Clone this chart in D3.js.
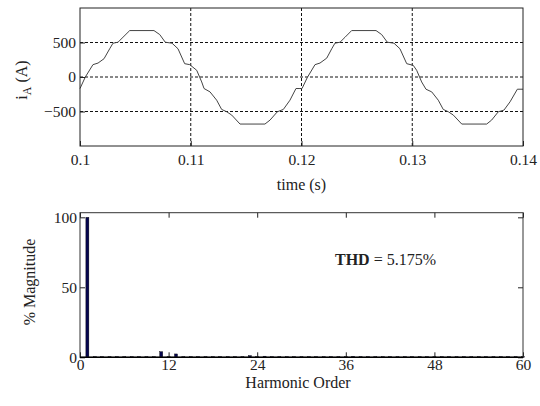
<!DOCTYPE html>
<html>
<head>
<meta charset="utf-8">
<script src="https://cdn.jsdelivr.net/npm/d3@7"></script>
<style>
  body { margin: 0; background: #fff; }
  svg text { font-family: "Liberation Serif", "Times New Roman", serif; font-size: 16px; fill: #222; }
  svg .tick text { font-size: 15.5px; }
</style>
</head>
<body>
<div id="chart"></div>
<script>

// phase current
const timeS = [
  0.1000, 0.10048, 0.10117, 0.10163, 0.10217, 0.10268, 0.10298, 0.10343, 0.10388, 0.10449,
  0.10668, 0.10720, 0.10770, 0.10831, 0.10885, 0.10945, 0.10991, 0.11054, 0.11099, 0.11120,
  0.11174, 0.11234, 0.11279, 0.11325, 0.11370, 0.11445, 0.11670, 0.11716, 0.11782, 0.11836,
  0.11896, 0.11950, 0.11986, 0.12005, 0.12052, 0.12122, 0.12167, 0.12228, 0.12273, 0.12302,
  0.12348, 0.12393, 0.12453, 0.12673, 0.12724, 0.12775, 0.12835, 0.12889, 0.12950, 0.13009,
  0.13040, 0.13085, 0.13124, 0.13176, 0.13235, 0.13280, 0.13326, 0.13371, 0.13447, 0.13672,
  0.13717, 0.13777, 0.13828, 0.13883, 0.13949, 0.14000
];
const currentA = [
  -167, 0, 179, 202, 265, 409, 490, 504, 576, 673,
  673, 615, 504, 490, 409, 193, 179, 97, -72, -167,
  -216, -336, -470, -504, -552, -682, -682, -624, -504, -470,
  -336, -167, -167, -167, -9, 179, 202, 274, 409, 490,
  504, 576, 673, 673, 615, 504, 490, 409, 193, 169,
  97, -72, -177, -216, -336, -470, -504, -552, -682, -682,
  -624, -504, -480, -360, -177, -177
];
const timeTicks = [0.1, 0.11, 0.12, 0.13, 0.14];
const currentTicks = [-500, 0, 500];

// harmonic spectrum
const harmonicOrder = [
  1, 2, 3, 4, 5, 6, 7, 8, 9, 10, 11, 12, 13, 14, 15, 16, 17, 18, 19, 20,
  21, 22, 23, 24, 25, 26, 27, 28, 29, 30, 31, 32, 33, 34, 35, 36, 37, 38, 39, 40,
  41, 42, 43, 44, 45, 46, 47, 48, 49, 50, 51, 52, 53, 54, 55, 56, 57, 58, 59, 60
];
const magnitudePct = [
  100, 0.5, 0.5, 0.5, 0.5, 0.5, 0.5, 0.5, 0.5, 0.5, 4.0, 0.5, 2.4, 0.5, 0.5, 0.5, 0.5, 0.5, 0.5, 0.5,
  0.5, 0.5, 1.2, 0.5, 0.8, 0.5, 0.5, 0.5, 0.5, 0.5, 0.5, 0.5, 0.5, 0.5, 0.5, 0.5, 0.7, 0.5, 0.5, 0.5,
  0.5, 0.5, 0.5, 0.5, 0.5, 0.5, 0.5, 0.5, 0.5, 0.5, 0.5, 0.5, 0.5, 0.5, 0.5, 0.5, 0.5, 0.5, 0.5, 0.5
];
const harmonicTicks = [0, 12, 24, 36, 48, 60];
const magnitudeTicks = [0, 50, 100];
const thdValue = "5.175%";

const WIDTH = 540;
const HEIGHT = 406;
const LEFT = 80, RIGHT = 523;

var svg = d3.select("#chart").append("svg")
    .attr("width", WIDTH)
    .attr("height", HEIGHT);

// ---------- upper plot: i_A(t) ----------
var xT = d3.scaleLinear().domain([0.1, 0.14]).range([LEFT, RIGHT]);
var yI = d3.scaleLinear().domain([-1000, 1000]).range([146, 8]);

var upper = svg.append("g");

// dashed grid
upper.selectAll(".hgrid").data(currentTicks).enter().append("line")
    .attr("x1", LEFT).attr("x2", RIGHT)
    .attr("y1", d => yI(d)).attr("y2", d => yI(d))
    .attr("stroke", "#111").attr("stroke-dasharray", "3,2");
upper.selectAll(".vgrid").data(timeTicks.slice(1, -1)).enter().append("line")
    .attr("x1", d => xT(d)).attr("x2", d => xT(d))
    .attr("y1", yI(1000)).attr("y2", yI(-1000))
    .attr("stroke", "#111").attr("stroke-dasharray", "3,2");

var line = d3.line().x((d, i) => xT(timeS[i])).y(d => yI(d));
upper.append("path")
    .datum(currentA)
    .attr("d", line)
    .attr("fill", "none")
    .attr("stroke", "#444")
    .attr("stroke-width", 1);

var xAxisTop = upper.append("g")
    .attr("transform", "translate(0," + yI(-1000) + ")")
    .call(d3.axisBottom(xT).tickValues(timeTicks).tickSize(-5).tickPadding(8).tickFormat(d => String(d)));
var yAxisTop = upper.append("g")
    .attr("transform", "translate(" + LEFT + ",0)")
    .call(d3.axisLeft(yI).tickValues(currentTicks).tickSize(-5).tickPadding(4));
[xAxisTop, yAxisTop].forEach(g => {
    g.select(".domain").remove();
    g.selectAll("line").attr("stroke", "#222");
    g.selectAll("text").attr("font-size", null).attr("font-family", null).attr("fill", "#222");
});

upper.append("rect")
    .attr("x", LEFT).attr("y", yI(1000))
    .attr("width", RIGHT - LEFT).attr("height", yI(-1000) - yI(1000))
    .attr("fill", "none").attr("stroke", "#222");

var yLab = upper.append("text")
    .attr("transform", "translate(27," + 80 + ") rotate(-90)")
    .attr("text-anchor", "middle");
yLab.append("tspan").text("i");
yLab.append("tspan").attr("dy", 4).attr("font-size", 12).text("A");
yLab.append("tspan").attr("dy", -4).text(" (A)");

upper.append("text")
    .attr("x", (LEFT + RIGHT) / 2).attr("y", 190)
    .attr("text-anchor", "middle")
    .text("time (s)");

// ---------- lower plot: harmonic spectrum ----------
var xH = d3.scaleLinear().domain([0, 60]).range([LEFT, RIGHT]);
var yM = d3.scaleLinear().domain([0, 103.3]).range([357.3, 212.7]);

var lower = svg.append("g");

lower.selectAll(".bar").data(magnitudePct).enter().append("rect")
    .attr("x", (d, i) => xH(harmonicOrder[i]) - 1.5)
    .attr("width", 3)
    .attr("y", d => yM(d))
    .attr("height", d => yM(0) - yM(d))
    .attr("fill", "#06064f")
    .attr("stroke", "#000")
    .attr("stroke-width", 0.4);

var xAxisBot = lower.append("g")
    .attr("transform", "translate(0," + yM(0) + ")")
    .call(d3.axisBottom(xH).tickValues(harmonicTicks).tickSize(-5).tickPadding(1.5));
var xAxisBotTop = lower.append("g")
    .attr("transform", "translate(0," + yM(103.3) + ")")
    .call(d3.axisTop(xH).tickValues(harmonicTicks).tickSize(-5).tickFormat(""));
var yAxisBot = lower.append("g")
    .attr("transform", "translate(" + LEFT + ",0)")
    .call(d3.axisLeft(yM).tickValues(magnitudeTicks).tickSize(-5).tickPadding(3));
var yAxisBotRight = lower.append("g")
    .attr("transform", "translate(" + RIGHT + ",0)")
    .call(d3.axisRight(yM).tickValues(magnitudeTicks).tickSize(-5).tickFormat(""));
[xAxisBot, xAxisBotTop, yAxisBot, yAxisBotRight].forEach(g => {
    g.select(".domain").remove();
    g.selectAll("line").attr("stroke", "#222");
    g.selectAll("text").attr("font-size", null).attr("font-family", null).attr("fill", "#222");
});

lower.append("rect")
    .attr("x", LEFT).attr("y", yM(103.3))
    .attr("width", RIGHT - LEFT).attr("height", yM(0) - yM(103.3))
    .attr("fill", "none").attr("stroke", "#333");
lower.append("line")
    .attr("x1", LEFT).attr("x2", RIGHT)
    .attr("y1", yM(0)).attr("y2", yM(0))
    .attr("stroke", "#000").attr("stroke-width", 1.5);

var thd = lower.append("text")
    .attr("x", 335).attr("y", 265)
    .attr("font-size", 17);
thd.append("tspan").attr("font-weight", "bold").text("THD");
thd.append("tspan").text(" = " + thdValue);

lower.append("text")
    .attr("transform", "translate(35,282) rotate(-90)")
    .attr("text-anchor", "middle")
    .text("% Magnitude");

lower.append("text")
    .attr("x", 298).attr("y", 388)
    .attr("text-anchor", "middle")
    .text("Harmonic Order");

</script>
</body>
</html>
